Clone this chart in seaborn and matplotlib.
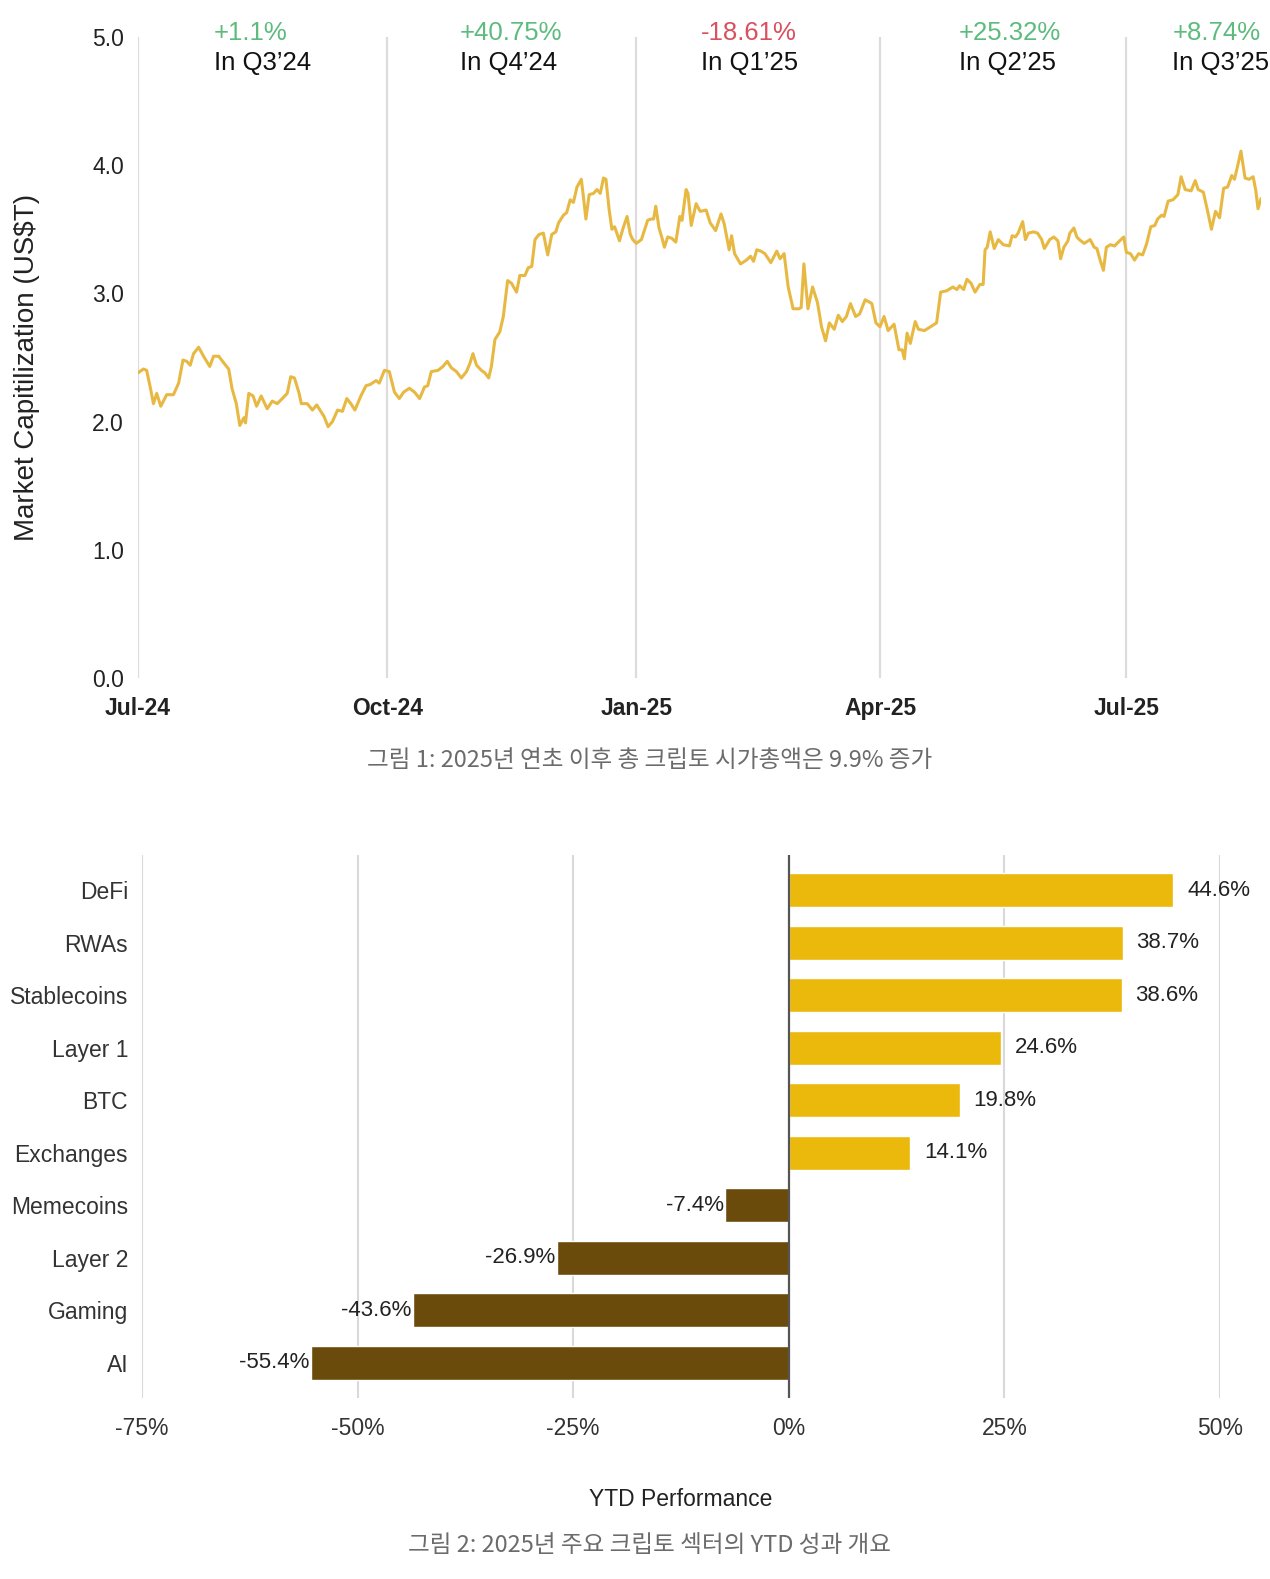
import pandas as pd
import matplotlib.pyplot as plt
import seaborn as sns

# 총 시가총액 (US$T), 2024-07-01 기준 경과일
day_offsets = [
    0, 2.0, 3.2, 4.5, 5.7, 6.9, 8.4, 10.6, 13.1, 15.0, 16.6, 18.0, 19.3, 20.5, 22.4,
    24.2, 26.5, 27.9, 29.8, 31.6, 33.5, 34.7, 36.3, 37.6, 39.1, 39.7, 40.9, 42.5,
    43.8, 45.5, 47.7, 49.6, 51.4, 53.3, 55.1, 56.4, 57.8, 59.5, 60.3, 62.5, 64.4,
    66.0, 67.5, 68.7, 70.2, 71.8, 73.7, 75.5, 77.1, 78.6, 80.1, 82.3, 84.2, 85.8,
    87.9, 89.1, 91.0, 92.8, 94.7, 96.5, 98.1, 100.2, 102.1, 104.0, 105.8, 107.0,
    108.3, 110.8, 112.6, 114.2, 115.7, 117.6, 119.4, 121.3, 122.5, 123.7, 125.0,
    126.8, 128.1, 129.5, 130.5, 131.8, 133.6, 134.9, 136.5, 137.9, 139.8, 141.0,
    142.9, 144.1, 145.4, 146.6, 148.1, 149.7, 151.3, 152.8, 154.3, 155.3, 157.1,
    158.3, 159.6, 160.8, 162.1, 163.7, 164.5, 165.4, 166.6, 168.2, 169.5, 170.7,
    171.9, 172.8, 174.0, 175.0, 176.0, 177.8, 179.0, 180.6, 181.8, 182.7, 184.0,
    185.9, 188.2, 189.4, 190.4, 191.2, 192.4, 193.4, 194.4, 195.6, 197.1, 198.6,
    200.1, 200.9, 202.4, 203.1, 204.3, 206.1, 207.6, 209.8, 211.3, 213.3, 215.3,
    216.5, 218.3, 219.2, 220.3, 222.5, 224.7, 226.2, 227.3, 228.5, 230.0, 231.5,
    233.7, 235.9, 237.1, 238.6, 240.1, 241.9, 244.1, 244.9, 245.9, 247.4, 249.1,
    250.9, 252.4, 253.9, 255.3, 257.1, 258.6, 260.1, 261.6, 263.1, 265.0, 266.5,
    268.5, 270.3, 271.0, 272.5, 274.0, 275.5, 277.0, 279.2, 281.0, 282.2, 283.0,
    284.0, 285.2, 287.0, 288.2, 290.4, 292.7, 294.9, 296.4, 298.6, 300.9, 302.4,
    303.4, 304.9, 306.1, 307.6, 309.1, 310.9, 312.1, 312.8, 313.6, 314.7, 316.2,
    317.7, 319.5, 321.8, 322.8, 324.0, 325.0, 326.7, 327.7, 328.8, 330.7, 332.2,
    333.7, 334.7, 336.7, 338.2, 339.7, 340.7, 341.9, 343.4, 344.1, 345.6, 346.7,
    347.6, 349.4, 351.6, 353.1, 354.1, 355.3, 356.5, 357.6, 359.1, 360.6, 362.5,
    364.0, 365.0, 366.5, 368.0, 369.5, 371.0, 372.5, 374.0, 375.5, 376.5, 378.0,
    378.9, 380.4, 382.2, 384.0, 385.2, 386.7, 388.9, 390.4, 391.5, 393.4, 394.9,
    396.4, 397.9, 399.4, 400.9, 402.4, 403.9, 404.9, 405.8, 407.3, 408.8, 410.3,
    411.8, 412.8, 413.6, 414.7,
]
market_cap = [
    2.38, 2.41, 2.40, 2.27, 2.14, 2.22, 2.12, 2.21, 2.21, 2.30, 2.48, 2.47, 2.44, 2.53, 2.58,
    2.51, 2.43, 2.51, 2.51, 2.46, 2.41, 2.26, 2.14, 1.97, 2.03, 1.99, 2.22, 2.20,
    2.12, 2.20, 2.10, 2.16, 2.14, 2.18, 2.22, 2.35, 2.34, 2.22, 2.14, 2.14, 2.09,
    2.13, 2.08, 2.04, 1.96, 2.00, 2.09, 2.08, 2.18, 2.14, 2.09, 2.20, 2.28, 2.29,
    2.32, 2.30, 2.40, 2.39, 2.23, 2.18, 2.23, 2.26, 2.23, 2.18, 2.27, 2.28,
    2.39, 2.40, 2.43, 2.47, 2.42, 2.39, 2.34, 2.39, 2.45, 2.53, 2.44,
    2.40, 2.38, 2.34, 2.43, 2.64, 2.70, 2.82, 3.10, 3.08, 3.01, 3.14,
    3.14, 3.20, 3.21, 3.42, 3.46, 3.47, 3.30, 3.46, 3.48, 3.55, 3.61,
    3.63, 3.73, 3.71, 3.83, 3.89, 3.75, 3.58, 3.77, 3.78, 3.81, 3.78,
    3.90, 3.89, 3.65, 3.50, 3.52, 3.41, 3.50, 3.60, 3.46, 3.42, 3.39,
    3.42, 3.57, 3.58, 3.58, 3.68, 3.51, 3.44, 3.36, 3.44, 3.43, 3.40,
    3.60, 3.57, 3.81, 3.78, 3.53, 3.70, 3.64, 3.65, 3.55, 3.49, 3.62,
    3.54, 3.34, 3.45, 3.31, 3.23, 3.26, 3.29, 3.25, 3.34, 3.33, 3.31,
    3.24, 3.33, 3.27, 3.31, 3.05, 2.88, 2.88, 2.89, 3.23, 2.88, 3.05,
    2.93, 2.74, 2.63, 2.77, 2.72, 2.83, 2.78, 2.82, 2.92, 2.82, 2.84,
    2.95, 2.93, 2.92, 2.77, 2.74, 2.82, 2.71, 2.76, 2.56, 2.56, 2.49,
    2.69, 2.61, 2.78, 2.72, 2.71, 2.74, 2.77, 3.01, 3.02, 3.05, 3.03,
    3.06, 3.03, 3.11, 3.08, 3.01, 3.07, 3.07, 3.34, 3.36, 3.48, 3.35,
    3.42, 3.38, 3.37, 3.45, 3.44, 3.47, 3.56, 3.42, 3.47, 3.48, 3.47,
    3.42, 3.35, 3.42, 3.44, 3.41, 3.27, 3.36, 3.41, 3.47, 3.51, 3.44,
    3.42, 3.39, 3.42, 3.36, 3.35, 3.26, 3.18, 3.36, 3.38, 3.37, 3.41,
    3.44, 3.32, 3.31, 3.26, 3.31, 3.30, 3.39, 3.52, 3.53, 3.58, 3.61,
    3.60, 3.72, 3.73, 3.77, 3.91, 3.81, 3.80, 3.88, 3.81, 3.79, 3.65,
    3.50, 3.64, 3.59, 3.82, 3.83, 3.92, 3.89, 3.97, 4.11, 3.90, 3.89,
    3.91, 3.80, 3.66, 3.74,
]

quarter_ticks = ["2024-07-01", "2024-10-01", "2025-01-01", "2025-04-01", "2025-07-01"]
quarter_tick_labels = ["Jul-24", "Oct-24", "Jan-25", "Apr-25", "Jul-25"]
quarter_changes = ["+1.1%", "+40.75%", "-18.61%", "+25.32%", "+8.74%"]
quarter_names = ["In Q3’24", "In Q4’24", "In Q1’25", "In Q2’25", "In Q3’25"]

# 섹터별 YTD 성과 (%)
sectors = ["DeFi", "RWAs", "Stablecoins", "Layer 1", "BTC", "Exchanges",
           "Memecoins", "Layer 2", "Gaming", "AI"]
ytd_perf = [44.6, 38.7, 38.6, 24.6, 19.8, 14.1, -7.4, -26.9, -43.6, -55.4]
perf_ticks = [-75, -50, -25, 0, 25, 50]

caption1 = "그림 1: 2025년 연초 이후 총 크립토 시가총액은 9.9% 증가"
caption2 = "그림 2: 2025년 주요 크립토 섹터의 YTD 성과 개요"

sns.set_style("white")
plt.rcParams["font.family"] = ["Liberation Sans", "Noto Sans CJK KR", "DejaVu Sans"]

start = pd.Timestamp("2024-07-01")
df_cap = pd.DataFrame({
    "date": start + pd.to_timedelta(day_offsets, unit="D"),
    "cap": market_cap,
})

fig = plt.figure(figsize=(12.7, 15.79), dpi=100)
W, H = 1270, 1579

# ---- 그림 1: 시가총액 라인 ----
ax1 = fig.add_axes([138 / W, 1 - 678 / H, (1261 - 138) / W, (678 - 37) / H])
for t in quarter_ticks:
    ax1.axvline(pd.Timestamp(t), color="#dcdcdc", lw=1.6, zorder=0)
sns.lineplot(data=df_cap, x="date", y="cap", color="#E8B942", lw=2.2, ax=ax1)
ax1.set_xlim(start, df_cap["date"].iloc[-1])
ax1.set_ylim(0, 5)
ax1.set_yticks([0, 1, 2, 3, 4, 5])
ax1.set_yticklabels([f"{v:.1f}" for v in range(6)])
ax1.set_xticks([pd.Timestamp(t) for t in quarter_ticks])
ax1.set_xticklabels(quarter_tick_labels)
ax1.tick_params(axis="both", length=0, labelsize=16.5, labelcolor="#222222")
ax1.tick_params(axis="y", pad=10)
ax1.tick_params(axis="x", pad=14)
for lab in ax1.get_xticklabels():
    lab.set_fontweight("bold")
ax1.set_xlabel("")
ax1.set_ylabel("Market Capitilization (US$T)", fontsize=20, color="#222222")
ax1.yaxis.set_label_coords(-0.087, 0.485)
sns.despine(ax=ax1, left=True, bottom=True)

label_days = [28, 119, 208, 303, 382]
for d, chg, name in zip(label_days, quarter_changes, quarter_names):
    x = start + pd.Timedelta(days=d)
    col = "#d9505f" if chg.startswith("-") else "#5dbb7e"
    ax1.text(x, 5.03, chg, color=col, fontsize=18.5, ha="left", va="center", clip_on=False)
    ax1.text(x, 4.80, name, color="#111111", fontsize=18.5, ha="left", va="center", clip_on=False)

fig.text(650 / W, 1 - 761 / H, caption1, ha="center", va="center", fontsize=17,
         color="#6b6b6b", family=["Noto Sans CJK KR", "DejaVu Sans"], style="italic")

# ---- 그림 2: 섹터별 YTD 성과 ----
ax2 = fig.add_axes([142 / W, 1 - 1398 / H, (1220 - 142) / W, (1398 - 855) / H])
df_perf = pd.DataFrame({"sector": sectors, "ytd": ytd_perf})
df_perf["sign"] = ["pos" if v >= 0 else "neg" for v in ytd_perf]
for t in perf_ticks:
    if t == 0:
        continue
    ax2.axvline(t, color="#d9d9d9", lw=1.5, zorder=0)
sns.barplot(data=df_perf, x="ytd", y="sector", hue="sign", orient="h",
            palette={"pos": "#EBB80C", "neg": "#6A4B0C"}, saturation=1,
            dodge=False, legend=False, width=0.65, ax=ax2, zorder=2)
ax2.axvline(0, color="#555555", lw=1.6, zorder=3)
ax2.set_xlim(-75, 50)
ax2.set_ylim(9.67, -0.67)
ax2.set_xticks(perf_ticks)
ax2.set_xticklabels([f"{t}%" for t in perf_ticks])
ax2.tick_params(axis="both", length=0, labelsize=16.5, labelcolor="#333333")
ax2.tick_params(axis="x", pad=14)
ax2.tick_params(axis="y", pad=10)
ax2.set_ylabel("")
ax2.set_xlabel("YTD Performance", fontsize=16.5, color="#222222")
ax2.xaxis.set_label_coords(0.5, -0.166)
sns.despine(ax=ax2, left=True, bottom=True)

for i, v in enumerate(ytd_perf):
    if v >= 0:
        ax2.annotate(f"{v}%", (v, i), xytext=(10, 0), textcoords="offset points",
                     ha="left", va="center", fontsize=16, color="#222222", clip_on=False)
    else:
        ax2.annotate(f"{v}%", (v, i), xytext=(-1, 0), textcoords="offset points",
                     ha="right", va="center", fontsize=16, color="#222222", clip_on=False)

fig.text(650 / W, 1 - 1546 / H, caption2, ha="center", va="center", fontsize=17,
         color="#6b6b6b", family=["Noto Sans CJK KR", "DejaVu Sans"], style="italic")

fig.savefig("out.png", dpi=100, facecolor="white")
